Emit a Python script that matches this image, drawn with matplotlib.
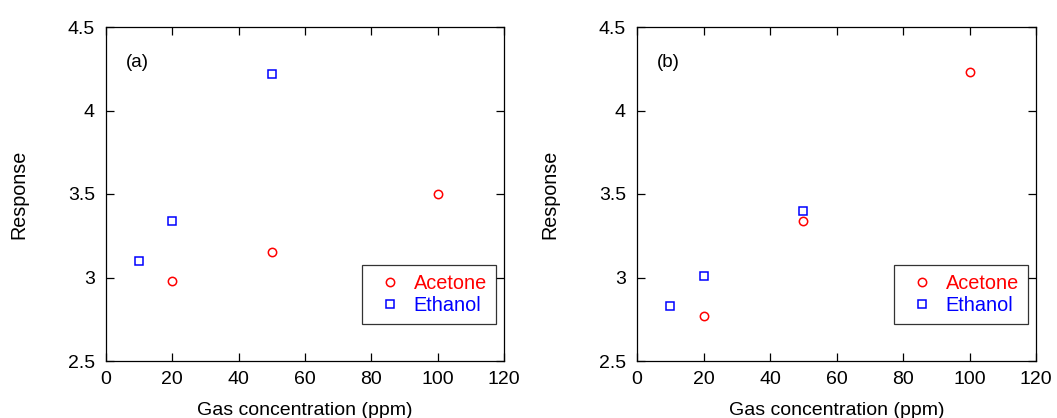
import matplotlib
matplotlib.use("Agg")
import matplotlib.pyplot as plt

plt.rcParams['font.family'] = ['Liberation Sans', 'DejaVu Sans']

# Gas sensing response data
acetone_ppm_a = [20, 50, 100]
acetone_resp_a = [2.98, 3.15, 3.50]
ethanol_ppm_a = [10, 20, 50]
ethanol_resp_a = [3.10, 3.34, 4.22]

acetone_ppm_b = [20, 50, 100]
acetone_resp_b = [2.77, 3.34, 4.23]
ethanol_ppm_b = [10, 20, 50]
ethanol_resp_b = [2.83, 3.01, 3.40]

panel_labels = ["(a)", "(b)"]
x_ticks = [0, 20, 40, 60, 80, 100, 120]
y_ticks = [2.5, 3, 3.5, 4, 4.5]
y_tick_labels = ["2.5", "3", "3.5", "4", "4.5"]

W, H = 1057, 418
fig = plt.figure(figsize=(W / 100, H / 100), dpi=100)

axes_boxes = [
    (106, 27, 504, 361),
    (637, 27, 1036, 361),
]

panels = [
    (acetone_ppm_a, acetone_resp_a, ethanol_ppm_a, ethanol_resp_a),
    (acetone_ppm_b, acetone_resp_b, ethanol_ppm_b, ethanol_resp_b),
]

for (x0, y0, x1, y1), (ax_, ay_, ex_, ey_), lab in zip(axes_boxes, panels, panel_labels):
    ax = fig.add_axes([x0 / W, 1 - y1 / H, (x1 - x0) / W, (y1 - y0) / H])
    ax.plot(ax_, ay_, linestyle='none', marker='o', markersize=6,
            markerfacecolor='none', markeredgecolor='#ff0000', markeredgewidth=1.1,
            label='Acetone')
    ax.plot(ex_, ey_, linestyle='none', marker='s', markersize=6,
            markerfacecolor='none', markeredgecolor='#0000ff', markeredgewidth=1.1,
            label='Ethanol')
    ax.set_xlim(0, 120)
    ax.set_ylim(2.5, 4.5)
    ax.set_xticks(x_ticks)
    ax.set_yticks(y_ticks)
    ax.set_yticklabels(y_tick_labels)
    ax.tick_params(direction='in', length=6, width=0.9, top=True, right=True,
                   labelsize=14, pad=8, colors='black')
    ax.tick_params(axis='x', pad=7)
    for s in ax.spines.values():
        s.set_linewidth(0.9)
    ax.set_xlabel('Gas concentration (ppm)', fontsize=14, labelpad=10)
    ax.set_ylabel('Response', fontsize=14.2, labelpad=28)
    ax.text(0.05, 0.895, lab, transform=ax.transAxes, fontsize=13.5,
            ha='left', va='center')
    leg = ax.legend(loc='lower right', bbox_to_anchor=(0.98, 0.11), fontsize=14.3,
                    frameon=True, fancybox=False, edgecolor='black',
                    handlelength=1.9, handletextpad=0.25, borderpad=0.45,
                    labelspacing=0.15, borderaxespad=0, numpoints=1)
    leg.get_frame().set_linewidth(0.9)
    for t, c in zip(leg.get_texts(), ['#ff0000', '#0000ff']):
        t.set_color(c)

fig.savefig('out.png', dpi=100)
